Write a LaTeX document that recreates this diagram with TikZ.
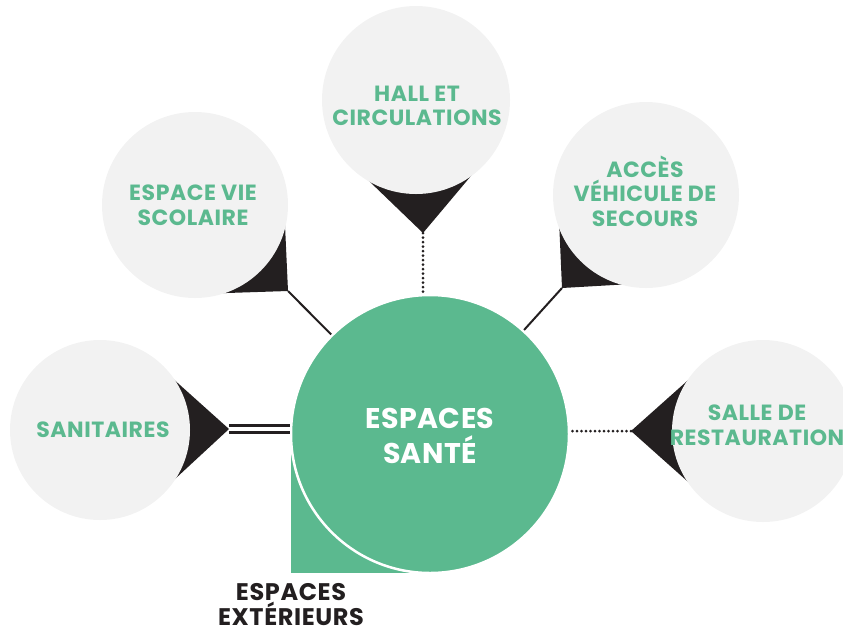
\documentclass[tikz,border=0pt]{standalone}
\usepackage{fontspec}
\setmainfont{Poppins}
\usetikzlibrary{calc}
\definecolor{grn}{RGB}{91,185,143}
\definecolor{lgray}{RGB}{242,242,242}
\definecolor{blk}{RGB}{35,31,32}
\newcommand\satpin[4]{% name, center, inner radius, tip
  \coordinate (#1c) at (#2);
  \coordinate (#1t) at (#4);
  \fill[blk] (#1c) -- ($(#1c)!#3pt!45:(#1t)$) -- (#1t) -- ($(#1c)!#3pt!-45:(#1t)$) -- cycle;
}
\begin{document}
\begin{tikzpicture}[x=1pt,y=-1pt,
  sat/.style={circle, fill=lgray, inner sep=0pt},
  lbl/.style={text=grn, font=\bfseries\fontsize{22}{24.5}\selectfont\addfontfeatures{LetterSpace=2.5}, align=center},
  conn/.style={draw=blk, line width=2pt},
  dotconn/.style={draw=blk, line width=3pt, dash pattern=on 0pt off 4.5pt, line cap=round},
]
\useasboundingbox (0,0) rectangle (843,633);
% pins
\satpin{san}{100,430}{87}{229,429}
\satpin{vie}{195,205}{89}{288,291}
\satpin{hall}{416,100}{91}{423,233}
\satpin{acc}{646,195}{88}{562,288}
\satpin{sal}{763,431}{88}{631,431}
% satellite circles
\node[sat, minimum size=180pt] (san) at (sanc) {};
\node[sat, minimum size=186pt] (vie) at (viec) {};
\node[sat, minimum size=188pt] (hall) at (hallc) {};
\node[sat, minimum size=186pt] (acc) at (accc) {};
\node[sat, minimum size=182pt] (sal) at (salc) {};
% main circle
\coordinate (mc) at (430,434);
\fill[grn] (291,434) rectangle (430,573);
\node[circle, fill=grn, draw=white, line width=2.5pt, minimum size=278pt, inner sep=0pt] (main) at (mc) {};
% connectors
\draw[draw=blk, line width=2.6pt, double=white, double distance=4.6pt] (sant) -- (sant -| main.west);
\draw[conn] (viet) -- (main);
\draw[conn] (acct) -- (main);
\draw[dotconn] (hallt) -- (hallt |- main.north);
\draw[dotconn] (salt) -- (salt -| main.east);
% labels
\node[lbl] (tsan) at (103,430) {SANITAIRES};
\node[lbl] (tvie) at (193,205) {ESPACE VIE\\SCOLAIRE};
\node[lbl] (thall) at (417,106) {HALL ET\\CIRCULATIONS};
\node[lbl] (tacc) at (645,191) {ACCÈS\\VÉHICULE DE\\SECOURS};
\node[lbl] (tsal) at (757,425) {SALLE DE\\RESTAURATION};
\node[text=white, font=\bfseries\fontsize{28.5}{35}\selectfont\addfontfeatures{LetterSpace=1.5}, align=center] (tmain) at (430,436) {ESPACES\\SANTÉ};
\node[text=blk, font=\bfseries\fontsize{24}{25}\selectfont\addfontfeatures{LetterSpace=2.5}, align=center] (text) at (291,605) {ESPACES\\EXTÉRIEURS};
\end{tikzpicture}
\end{document}
